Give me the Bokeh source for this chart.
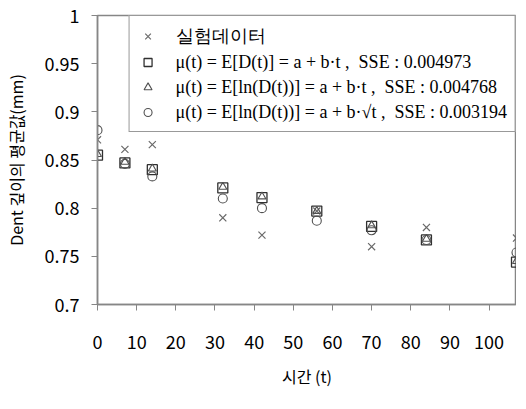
from bokeh.plotting import figure
from bokeh.models import Legend, LegendItem, CustomJSTickFormatter, FixedTicker, Range1d
from bokeh.embed import file_html
from bokeh.resources import INLINE

# Data
t = [0, 7, 14, 32, 42, 56, 70, 84, 107]
observed = [0.871, 0.861, 0.866, 0.790, 0.772, 0.797, 0.760, 0.780, 0.769]
model_linear = [0.855, 0.847, 0.840, 0.821, 0.811, 0.797, 0.781, 0.767, 0.744]
model_log_linear = [0.856, 0.848, 0.841, 0.822, 0.812, 0.797, 0.782, 0.768, 0.745]
model_log_sqrt = [0.881, 0.846, 0.833, 0.810, 0.800, 0.787, 0.777, 0.767, 0.754]

x_ticks = [0, 10, 20, 30, 40, 50, 60, 70, 80, 90, 100]
y_ticks = [0.7, 0.75, 0.8, 0.85, 0.9, 0.95, 1.0]

labels = [
    "실험데이터",
    "μ(t) = E[D(t)] = a + b·t ,  SSE : 0.004973",
    "μ(t) = E[ln(D(t))] = a + b·t ,  SSE : 0.004768",
    "μ(t) = E[ln(D(t))] = a + b·√t ,  SSE : 0.003194",
]

p = figure(width=516, height=390, output_backend="svg", toolbar_location=None,
           x_range=Range1d(0, 107), y_range=Range1d(0.7, 1.0),
           min_border_left=89, min_border_right=0, min_border_top=15, min_border_bottom=82)

axis_color = "#868686"
p.xgrid.visible = False
p.ygrid.visible = False
p.outline_line_color = axis_color
p.outline_line_width = 1.5
p.background_fill_color = "white"
p.border_fill_color = "white"

for ax in (p.xaxis[0], p.yaxis[0]):
    ax.axis_line_color = axis_color
    ax.axis_line_width = 1.5
    ax.major_tick_line_color = axis_color
    ax.major_tick_line_width = 1
    ax.major_tick_out = 6
    ax.major_tick_in = 0
    ax.minor_tick_line_color = None
    ax.major_label_text_font = "Noto Sans CJK KR"
    ax.major_label_text_font_size = "18px"
    ax.major_label_text_color = "black"
    ax.axis_label_text_font = "Noto Sans CJK KR"
    ax.axis_label_text_font_size = "16px"
    ax.axis_label_text_font_style = "normal"
    ax.axis_label_text_color = "black"

p.xaxis.ticker = FixedTicker(ticks=x_ticks)
p.yaxis.ticker = FixedTicker(ticks=y_ticks)
p.xaxis.major_label_standoff = 24
p.yaxis.major_label_standoff = 12
p.yaxis.formatter = CustomJSTickFormatter(code="""
var s = tick.toFixed(2);
s = s.replace(/0+$/, '').replace(/\\.$/, '');
return s;
""")
p.xaxis.axis_label = "시간 (t)"
p.yaxis.axis_label = "Dent 깊이의 평균값(mm)"
p.xaxis.axis_label_standoff = 12
p.yaxis.axis_label_standoff = 14

mc = "#505050"
r_obs = p.scatter(t, observed, marker="x", size=10, line_color="#6a6a6a", line_width=1.2)
r_sq = p.scatter(t, model_linear, marker="square", size=10, line_color="#303030",
                 fill_color=None, line_width=1.3)
r_tri = p.scatter(t, model_log_linear, marker="triangle", size=8, line_color=mc,
                  fill_color=None, line_width=1.1)
r_cir = p.scatter(t, model_log_sqrt, marker="circle", size=9, line_color=mc,
                  fill_color=None, line_width=1.1)

legend = Legend(items=[
    LegendItem(label=labels[0], renderers=[r_obs]),
    LegendItem(label=labels[1], renderers=[r_sq]),
    LegendItem(label=labels[2], renderers=[r_tri]),
    LegendItem(label=labels[3], renderers=[r_cir]),
], location="top_right")
legend.margin = 0
legend.padding = 8
legend.spacing = 3
legend.glyph_height = 22
legend.glyph_width = 20
legend.label_height = 22
legend.label_standoff = 18
legend.label_text_font = "Liberation Serif"
legend.label_text_font_size = "18px"
legend.label_text_color = "black"
legend.border_line_color = "#333333"
legend.border_line_width = 1
legend.background_fill_color = "white"
legend.background_fill_alpha = 1.0
p.add_layout(legend)

open("out.html", "w").write(file_html(p, INLINE))
